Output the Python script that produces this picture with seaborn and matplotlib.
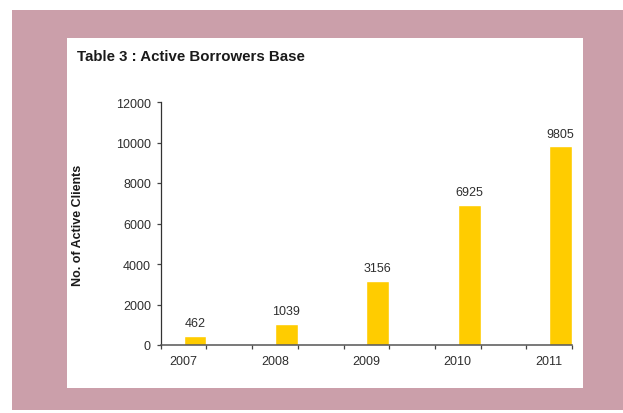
import matplotlib
matplotlib.use("Agg")
import matplotlib.pyplot as plt
from matplotlib.patches import Rectangle
from matplotlib.ticker import FixedLocator
import numpy as np
import pandas as pd
import seaborn as sns

# ---- data ----
years = ["2007", "2008", "2009", "2010", "2011"]
active_clients = [462, 1039, 3156, 6925, 9805]
series_names = ["blank", "Active Borrowers"]
title = "Table 3 : Active Borrowers Base"
ylabel = "No. of Active Clients"
yticks = [0, 2000, 4000, 6000, 8000, 10000, 12000]

df = pd.DataFrame({
    "year": years * 2,
    "series": [series_names[0]] * len(years) + [series_names[1]] * len(years),
    "value": [np.nan] * len(years) + active_clients,
})

sns.set_style("ticks")
plt.rcParams["font.family"] = ["Liberation Sans", "DejaVu Sans"]

W, H = 623, 414
fig = plt.figure(figsize=(W / 100, H / 100), dpi=100)
fig.patch.set_facecolor("white")

pink = "#CB9FAA"
fig.patches.append(Rectangle((12 / W, 1 - 411 / H), (W - 12) / W, (411 - 11) / H,
                             transform=fig.transFigure, facecolor=pink,
                             edgecolor="none", zorder=-10))
fig.patches.append(Rectangle((67 / W, 1 - 389 / H), (583 - 67) / W, (389 - 39) / H,
                             transform=fig.transFigure, facecolor="white",
                             edgecolor="none", zorder=-9))

ax = fig.add_axes([160.7 / W, 1 - 346 / H, (572 - 160.7) / W, (346 - 103) / H])
ax.set_facecolor("none")

sns.barplot(data=df, x="year", y="value", hue="series", hue_order=series_names,
            palette=["#FFCC00", "#FFCC00"], width=0.5, dodge=True,
            errorbar=None, legend=False, ax=ax, saturation=1)

txt = "#2e2e2e"
for cont in ax.containers:
    vals = [b.get_height() for b in cont]
    if all(np.isnan(v) for v in vals):
        continue
    ax.bar_label(cont, labels=[f"{int(v)}" for v in vals], padding=5,
                 fontsize=9, color=txt)

ax.set_xlim(-0.25, len(years) - 0.75)
ax.set_ylim(0, 12000)
ax.set_yticks(yticks)
ax.set_yticklabels([str(t) for t in yticks])

ax.xaxis.set_minor_locator(FixedLocator(np.arange(-0.25, len(years) - 0.5, 0.5)))
ax.tick_params(axis="x", which="major", length=0, pad=7, labelsize=9, labelcolor=txt)
ax.tick_params(axis="x", which="minor", length=3, width=0.9, direction="out", color="#444444")
ax.tick_params(axis="y", which="major", length=3, width=0.9, pad=4, labelsize=9,
               labelcolor=txt, color="#444444")

for s in ["top", "right"]:
    ax.spines[s].set_visible(False)
ax.spines["left"].set_color("#333333")
ax.spines["left"].set_linewidth(0.9)
ax.spines["bottom"].set_color("#555555")
ax.spines["bottom"].set_linewidth(1.1)

ax.set_xlabel("")
ax.set_ylabel("")
fig.text(78 / W, 1 - 225 / H, ylabel, rotation=90, ha="center", va="center",
         fontsize=9, fontweight="bold", color="#1a1a1a")
fig.text(77 / W, 1 - 57 / H, title, ha="left", va="center",
         fontsize=10.8, fontweight="bold", color="#1a1a1a")

fig.savefig("out.png", dpi=100, facecolor=fig.get_facecolor())
